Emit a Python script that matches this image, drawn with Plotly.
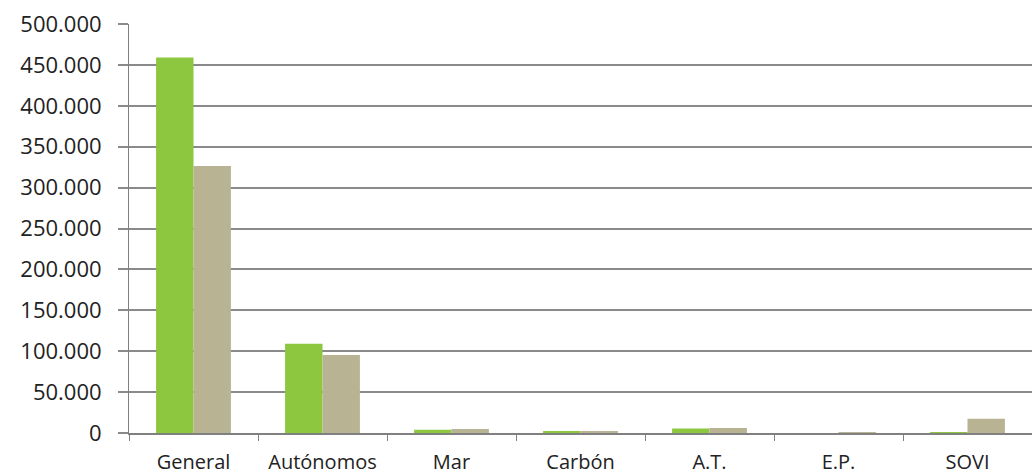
import plotly.graph_objects as go

categories = ["General", "Autónomos", "Mar", "Carbón", "A.T.", "E.P.", "SOVI"]
series_a = [459000, 109000, 4000, 1500, 5500, 0, 300]
series_b = [326500, 95500, 5000, 2200, 6000, 1000, 17500]
y_ticks = [0, 50000, 100000, 150000, 200000, 250000, 300000, 350000, 400000, 450000, 500000]

fig = go.Figure()
fig.add_trace(go.Bar(x=categories, y=series_a, marker=dict(color="#8DC63F", line=dict(width=0)), name="A"))
fig.add_trace(go.Bar(x=categories, y=series_b, marker=dict(color="#B8B393", line=dict(width=0)), name="B"))

fig.update_layout(
    width=1032, height=475,
    margin=dict(l=129, r=0, t=24, b=42),
    paper_bgcolor="white", plot_bgcolor="white",
    showlegend=False,
    barmode="group", bargap=0.42, bargroupgap=0,
    separators=",.",
    font=dict(family="Open Sans", color="#222222"),
)
fig.update_xaxes(
    type="category",
    showline=True, linecolor="#808080", linewidth=2,
    ticks="outside", tickson="boundaries", ticklen=6, tickcolor="#808080", tickwidth=1,
    tickfont=dict(size=20),
    ticklabelstandoff=10,
    automargin=False,
    showgrid=False,
)
fig.update_yaxes(
    range=[0, 500000], tickvals=y_ticks, tickformat=",d",
    showgrid=True, gridcolor="#8a8a8a", gridwidth=1.5,
    showline=True, linecolor="#808080", linewidth=1,
    ticks="outside", ticklen=10, tickcolor="#8a8a8a", tickwidth=1.5,
    tickfont=dict(size=22),
    ticklabelstandoff=12,
    automargin=False,
    zeroline=False,
)

fig.write_html("out.html", config={"displayModeBar": False},
               post_script="document.body.style.margin='0';document.body.style.overflow='hidden';")
